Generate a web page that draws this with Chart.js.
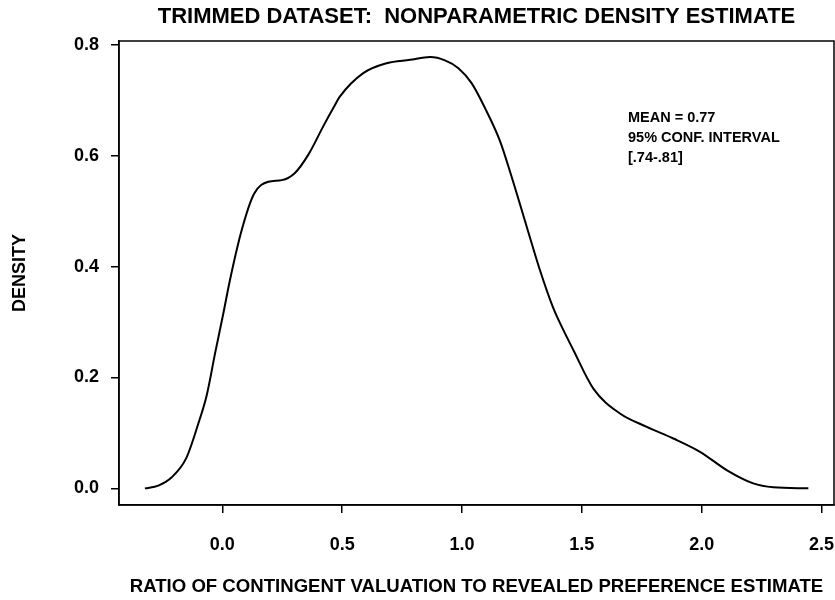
<!DOCTYPE html>
<html>
<head>
<meta charset="utf-8">
<script src="https://cdn.jsdelivr.net/npm/chart.js@4"></script>
<style>
  html, body { margin: 0; padding: 0; background: #fff; }
  #wrap { width: 835px; height: 600px; }
</style>
</head>
<body>
<div id="wrap"><canvas id="densityChart"></canvas></div>
<script>
// ratio values (x) and estimated density (y)
var ratioValues = [-0.323, -0.267, -0.211, -0.151, -0.100, -0.065, -0.030, 0.004, 0.032, 0.081,
    0.132, 0.192, 0.248, 0.303, 0.359, 0.421, 0.463, 0.491, 0.588, 0.686, 0.783, 0.867,
    0.929, 0.985, 1.040, 1.096, 1.159, 1.207, 1.270, 1.325, 1.381, 1.409, 1.464, 1.548,
    1.659, 1.771, 1.882, 1.993, 2.104, 2.215, 2.299, 2.445];
var densityValues = [0.000, 0.005, 0.020, 0.054, 0.117, 0.168, 0.244, 0.315, 0.376, 0.466,
    0.531, 0.553, 0.556, 0.569, 0.602, 0.653, 0.686, 0.707, 0.749, 0.767, 0.773, 0.778,
    0.772, 0.758, 0.731, 0.686, 0.626, 0.562, 0.472, 0.394, 0.325, 0.298, 0.250, 0.180,
    0.135, 0.111, 0.090, 0.066, 0.033, 0.009, 0.002, 0.000];
var xTickValues = [0.0, 0.5, 1.0, 1.5, 2.0, 2.5];
var yTickValues = [0.0, 0.2, 0.4, 0.6, 0.8];
var noteLines = ['MEAN = 0.77', '95% CONF. INTERVAL', '[.74-.81]'];

var FONT = "'Liberation Sans', Arial, sans-serif";

var points = [];
for (var i = 0; i < ratioValues.length; i++) {
    points.push({x: ratioValues[i], y: densityValues[i]});
}

// frame round the plot area plus the text note
var framePlugin = {
    id: 'frame',
    afterDraw: function(chart) {
        var a = chart.chartArea;
        var ctx = chart.ctx;
        ctx.save();
        ctx.strokeStyle = '#000';
        ctx.lineWidth = 1.5;
        ctx.strokeRect(a.left, a.top, a.right - a.left, a.bottom - a.top);
        ctx.fillStyle = '#000';
        ctx.font = 'bold 14.5px ' + FONT;
        ctx.textBaseline = 'middle';
        for (var i = 0; i < noteLines.length; i++) {
            ctx.fillText(noteLines[i], a.left + 509, a.top + 77 + i * 20);
        }
        ctx.restore();
    }
};

var ctx = document.getElementById('densityChart');
new Chart(ctx, {
    type: 'line',
    data: {
        datasets: [{
            data: points,
            borderColor: '#000',
            borderWidth: 2,
            pointRadius: 0,
            cubicInterpolationMode: 'monotone',
            fill: false
        }]
    },
    options: {
        responsive: true,
        maintainAspectRatio: false,
        animation: false,
        layout: { padding: { left: 0, right: 1, top: 0, bottom: 0 } },
        plugins: {
            legend: { display: false },
            tooltip: { enabled: false },
            title: {
                display: true,
                fullSize: false,
                text: 'TRIMMED DATASET:  NONPARAMETRIC DENSITY ESTIMATE',
                color: '#000',
                font: { family: FONT, size: 22, weight: 'bold' },
                padding: { top: 4, bottom: 10.6 }
            }
        },
        scales: {
            x: {
                type: 'linear',
                min: -0.431,
                max: 2.552,
                afterBuildTicks: function(scale) {
                    scale.ticks = xTickValues.map(function(v) { return {value: v}; });
                },
                afterFit: function(scale) {
                    scale.height = 95;
                    scale.paddingRight = 0;
                    scale.paddingLeft = 0;
                },
                ticks: {
                    color: '#000',
                    padding: 21,
                    maxRotation: 0,
                    font: { family: FONT, size: 18, weight: 'bold' },
                    callback: function(v) { return Number(v).toFixed(1); }
                },
                grid: { drawOnChartArea: false, drawTicks: true, tickLength: 8, color: '#000', lineWidth: 1.5 },
                border: { display: true, color: '#000', width: 1.5 },
                title: {
                    display: true,
                    text: 'RATIO OF CONTINGENT VALUATION TO REVEALED PREFERENCE ESTIMATE',
                    color: '#000',
                    font: { family: FONT, size: 18.6, weight: 'bold' },
                    padding: { top: 0, bottom: 2 }
                }
            },
            y: {
                type: 'linear',
                min: -0.030,
                max: 0.807,
                afterBuildTicks: function(scale) {
                    scale.ticks = yTickValues.map(function(v) { return {value: v}; });
                },
                afterFit: function(scale) { scale.width = 119; },
                ticks: {
                    color: '#000',
                    padding: 12,
                    font: { family: FONT, size: 18, weight: 'bold' },
                    callback: function(v) { return Number(v).toFixed(1); }
                },
                grid: { drawOnChartArea: false, drawTicks: true, tickLength: 8, color: '#000', lineWidth: 1.5 },
                border: { display: true, color: '#000', width: 1.5 },
                title: {
                    display: true,
                    text: 'DENSITY',
                    color: '#000',
                    font: { family: FONT, size: 18, weight: 'bold' },
                    padding: { top: 9, bottom: 0 }
                }
            }
        }
    },
    plugins: [framePlugin]
});
</script>
</body>
</html>
